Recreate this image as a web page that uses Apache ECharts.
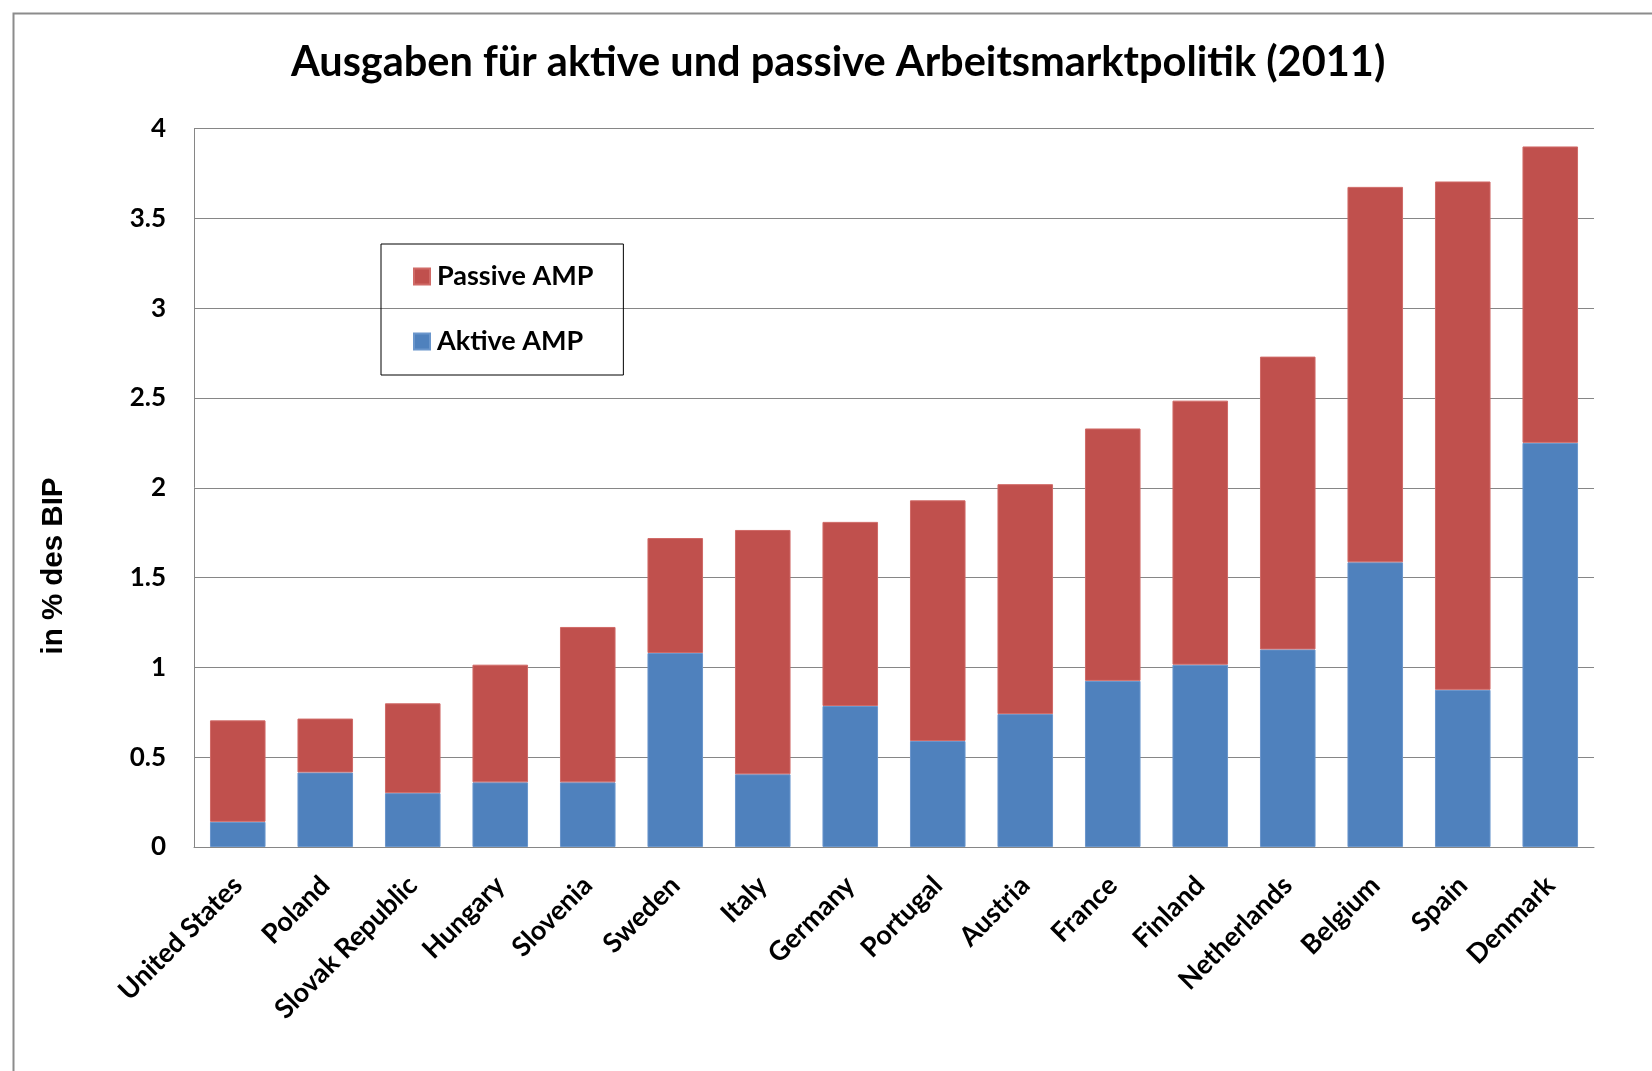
<!DOCTYPE html>
<html>
<head>
<meta charset="utf-8">
<script src="https://cdn.jsdelivr.net/npm/echarts@6/dist/echarts.min.js"></script>
<style>
html,body{margin:0;padding:0;background:#fff;}
#c{width:1652px;height:1071px;}
</style>
</head>
<body>
<div id="c"></div>
<script>
const categories = ["United States","Poland","Slovak Republic","Hungary","Slovenia","Sweden","Italy","Germany","Portugal","Austria","France","Finland","Netherlands","Belgium","Spain","Denmark"];
const aktive  = [0.14, 0.415, 0.30, 0.36, 0.36, 1.08, 0.405, 0.785, 0.59, 0.74, 0.925, 1.015, 1.10, 1.585, 0.875, 2.25];
const passive = [0.565, 0.30, 0.50, 0.655, 0.865, 0.64, 1.36, 1.025, 1.34, 1.28, 1.405, 1.47, 1.63, 2.09, 2.83, 1.65];
const yTicks = [0, 0.5, 1, 1.5, 2, 2.5, 3, 3.5, 4];

const FONT = 'Lato, "Open Sans", sans-serif';
const chart = echarts.init(document.getElementById('c'), null, {renderer:'canvas'});
chart.setOption({
  backgroundColor:'#ffffff',
  animation:false,
  title:{
    text:'Ausgaben für aktive und passive Arbeitsmarktpolitik (2011)',
    left:286, top:37,
    textStyle:{fontFamily:FONT, fontWeight:'bold', fontSize:41.5, color:'#000'}
  },
  graphic:[{
    type:'rect', left:11, top:11, z:-1,
    shape:{width:1700, height:1100},
    style:{fill:'none', stroke:'#8c8c8c', lineWidth:2}
  },{
    type:'text', x:54, y:566, rotation:Math.PI/2,
    style:{text:'in % des BIP', font:'bold 29.5px "Liberation Sans", Arial, sans-serif', fill:'#000',
      textAlign:'center', textVerticalAlign:'middle'}
  }],
  legend:{
    orient:'vertical', left:381, top:244,
    data:['Passive AMP','Aktive AMP'],
    itemWidth:16, itemHeight:16, itemGap:38,
    icon:'rect',
    padding:[19,30,20,32],
    borderColor:'#000', borderWidth:1,
    textStyle:{fontFamily:FONT, fontWeight:'bold', fontSize:27, color:'#000', lineHeight:27, padding:[0,0,0,2]}
  },
  grid:{left:194, right:58, top:128.5, bottom:224, containLabel:false},
  xAxis:{
    type:'category', data:categories,
    axisLine:{lineStyle:{color:'#868686', width:1}},
    axisTick:{show:false},
    axisLabel:{interval:0, rotate:45, margin:34, fontFamily:FONT, fontWeight:'bold', fontSize:27, color:'#000'}
  },
  yAxis:{
    type:'value', min:0, max:4, interval:0.5,
    axisLine:{show:true, lineStyle:{color:'#868686', width:1}},
    axisTick:{show:false},
    splitLine:{lineStyle:{color:'#868686', width:1}},
    axisLabel:{margin:28, fontFamily:FONT, fontWeight:'bold', fontSize:26, color:'#000',
      formatter:function(v){ return yTicks.indexOf(v) >= 0 ? String(v) : ''; }}
  },
  series:[
    {name:'Aktive AMP', type:'bar', stack:'t', data:aktive, barCategoryGap:'36.5%',
     itemStyle:{color:'#4F81BD', borderColor:'#6a96cc', borderWidth:1}},
    {name:'Passive AMP', type:'bar', stack:'t', data:passive, barCategoryGap:'36.5%',
     itemStyle:{color:'#C0504D', borderColor:'#d06a67', borderWidth:1}}
  ]
});
</script>
</body>
</html>
